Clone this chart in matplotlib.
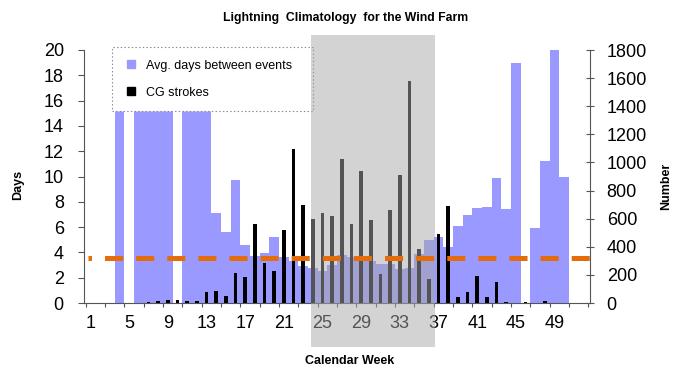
import numpy as np
import matplotlib
matplotlib.use("Agg")
import matplotlib.pyplot as plt
from matplotlib.patches import Rectangle
from matplotlib.lines import Line2D

plt.rcParams['font.family'] = ['Liberation Sans', 'DejaVu Sans']
plt.rcParams['lines.scale_dashes'] = False

# calendar weeks 1..52
weeks = np.arange(1, 53)

# average days between events (left axis)
days = [0, 0, 0, 20, 0, 20, 20, 20, 20, 0,
        20, 20, 20, 7.15, 5.6, 9.7, 4.6, 3.7, 3.95, 5.2,
        3.6, 3.3, 2.9, 2.75, 2.5, 3.0, 3.8, 3.6, 3.6, 3.35,
        3.1, 3.1, 2.65, 2.8, 3.9, 5.0, 5.2, 4.4, 6.1, 6.95,
        7.5, 7.6, 9.9, 7.45, 19.0, 0, 5.95, 11.25, 20, 10.0,
        0, 0]

# CG strokes per week (right axis)
strokes = [0, 0, 0, 0, 0, 3, 8, 14, 20, 20,
           14, 14, 76, 88, 50, 216, 188, 564, 283, 231,
           521, 1099, 694, 597, 640, 616, 1025, 559, 937, 592,
           207, 663, 911, 1579, 383, 169, 490, 692, 45, 78,
           193, 42, 147, 10, 0, 5, 0, 12, 0, 0,
           0, 0]

avg_level = 3.53          # days, dashed reference line
label_weeks = np.arange(1, 53, 4)
season = (23.8, 36.6)     # shaded weeks

W, H = 685, 371
pos = [84 / W, 1 - 303 / H, 506 / W, 253 / H]
fig = plt.figure(figsize=(W / 100, H / 100), dpi=100)
ax = fig.add_axes(pos)
ax2 = ax.twinx()

ax.bar(weeks, days, width=1.0, color='#9999FF', zorder=2)
ax2.bar(weeks, strokes, width=0.4, color='black', zorder=2)

ax.set_xlim(0.33, 52.67)
ax.set_ylim(0, 20)
ax2.set_ylim(0, 1800)

axcol = '#555555'
for s in ['top', 'right']:
    ax.spines[s].set_visible(False)
for s in ['top', 'left', 'bottom']:
    ax2.spines[s].set_visible(False)
for s in ['left', 'bottom']:
    ax.spines[s].set_color(axcol)
ax2.spines['right'].set_color(axcol)

ax.set_yticks(np.arange(0, 21, 2))
ax.tick_params(axis='y', direction='out', length=4.5, width=0.8, color=axcol,
               labelsize=13, pad=10)
ax2.set_yticks(np.arange(0, 1801, 200))
ax2.tick_params(axis='y', direction='inout', length=6, width=0.8, color=axcol,
                labelsize=13, pad=9)

ax.set_xticks(label_weeks, [str(w) for w in label_weeks])
ax.set_xticks(np.arange(0.5, 53, 2), minor=True)
ax.tick_params(axis='x', which='major', length=0, labelsize=13, pad=9)
ax.tick_params(axis='x', which='minor', direction='out', length=3, width=0.8,
               color=axcol)

fig.text(346 / W, 1 - 18 / H, 'Lightning  Climatology  for the Wind Farm',
         ha='center', va='center', fontsize=8.8, fontweight='bold')
fig.text(18 / W, 1 - 185 / H, 'Days', rotation=90, ha='center', va='center',
         fontsize=9, fontweight='bold')
fig.text(666 / W, 1 - 186 / H, 'Number', rotation=90, ha='center',
         va='center', fontsize=9, fontweight='bold')
fig.text(350 / W, 1 - 361 / H, 'Calendar Week', ha='center', va='center',
         fontsize=9, fontweight='bold')

handles = [Line2D([], [], marker='s', color='#9999FF', linestyle='none', markersize=6),
           Line2D([], [], marker='s', color='black', linestyle='none', markersize=6)]
leg = ax2.legend(handles, ['Avg. days between events', 'CG strokes'],
                 loc='upper left', bbox_to_anchor=(112 / W, 1 - 110 / H, 201 / W, 63 / H),
                 bbox_transform=fig.transFigure, mode='expand', borderaxespad=0,
                 fontsize=9, fancybox=False, framealpha=1, borderpad=1.0,
                 handlelength=1.0, handletextpad=0.7, labelspacing=1.2)
leg.get_frame().set_edgecolor('#888888')
leg.get_frame().set_linestyle(':')
leg.get_frame().set_linewidth(0.8)
leg.set_zorder(8)

# shaded season, drawn over axes and tick labels
x0 = 84 + (season[0] - 0.33) * 506 / 52.34
x1 = 84 + (season[1] - 0.33) * 506 / 52.34
fig.add_artist(Rectangle((x0 / W, 1 - 347 / H), (x1 - x0) / W, (347 - 35) / H,
                         transform=fig.transFigure, facecolor='#a8a8a8',
                         edgecolor='none', alpha=0.5, zorder=10))

# dashed average line sits above the shading
ax3 = fig.add_axes(pos, zorder=11)
ax3.set_xlim(0.33, 52.67)
ax3.set_ylim(0, 20)
ax3.axis('off')
ax3.plot([0.77, 52.67], [avg_level, avg_level], color='#E46C0A',
         lw=3.6, linestyle=(10.5, (13, 9.4)), dash_capstyle='butt')

fig.savefig('out.png', dpi=100)
